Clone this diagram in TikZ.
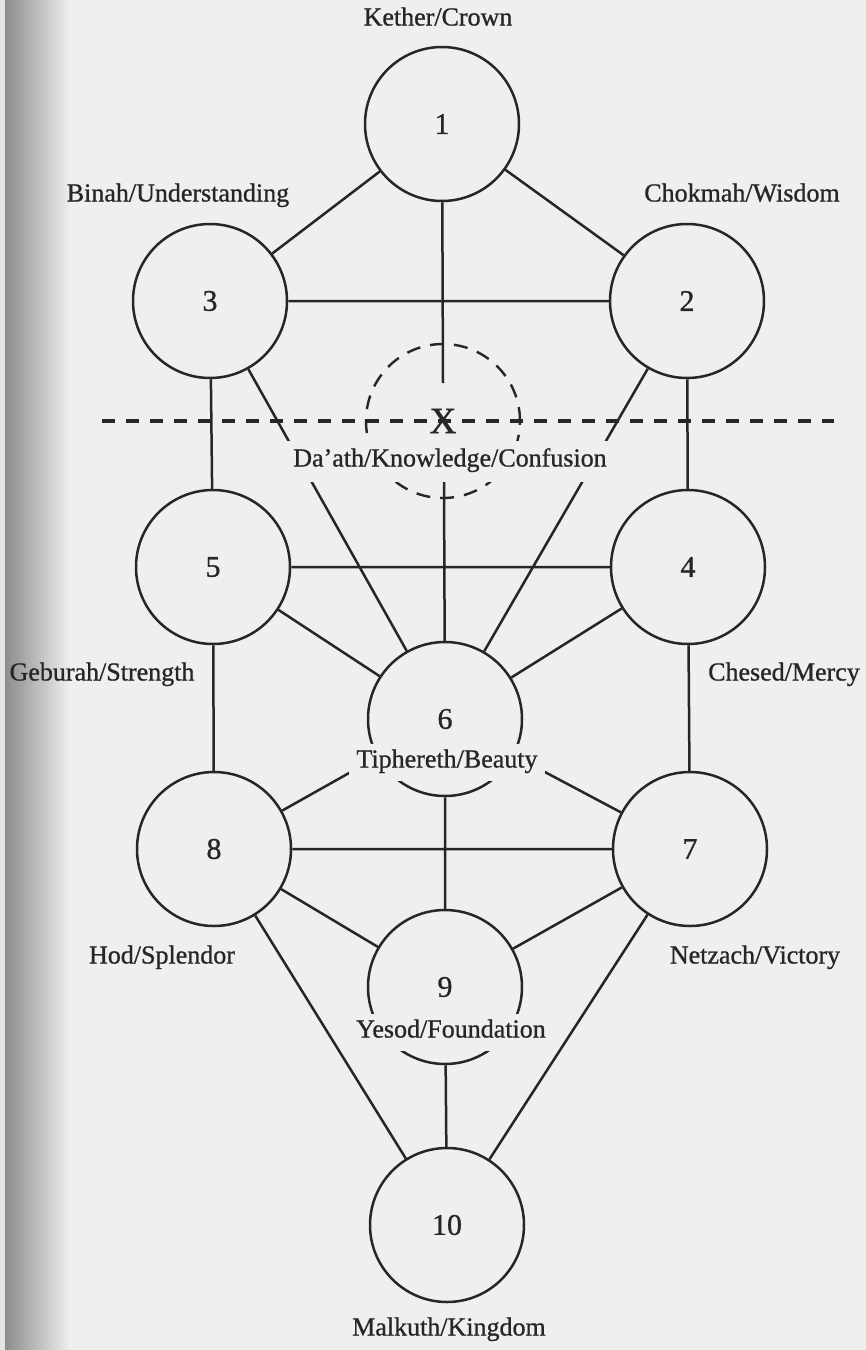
\documentclass[tikz,border=0pt]{standalone}
\usepackage{fontspec}
\setmainfont{Liberation Serif}
\newfontfamily\labfont{Liberation Serif}[FakeBold=0.9]
\definecolor{paper}{RGB}{239,239,239}
\definecolor{ink}{RGB}{38,38,38}
\definecolor{edge}{RGB}{140,140,140}
\definecolor{rim}{RGB}{228,228,228}
\begin{document}
\begin{tikzpicture}[x=1pt,y=-1pt,
  sef/.style={circle,draw=ink,line width=2.5pt,minimum size=154pt,inner sep=0pt,
    font=\labfont\fontsize{30}{33}\selectfont,text=ink},
  dsef/.style={circle,draw=ink,line width=2.4pt,minimum size=154pt,inner sep=0pt,
    dash pattern=on 14pt off 10pt},
  conn/.style={draw=ink,line width=2.5pt},
  dline/.style={draw=ink,line width=3.6pt,dash pattern=on 13pt off 11pt},
  lab/.style={font=\labfont\fontsize{26}{29}\selectfont,text=ink,inner xsep=7pt,inner ysep=7pt,
    text height=17pt,text depth=6pt},
  blank/.style={lab,fill=paper},
  xmark/.style={inner sep=0pt,font=\labfont\fontsize{37}{40}\selectfont,text=ink}
]
\useasboundingbox (0,0) rectangle (866,1350);
% paper
\fill[paper] (0,0) rectangle (866,1350);
\shade[left color=edge,right color=paper] (5,0) rectangle (70,1350);
\fill[rim] (0,0) rectangle (5,1350);

% sephiroth
\node[sef] (n1) at (442,124) {1};
\node[sef] (n2) at (687,301) {2};
\node[sef] (n3) at (210,301) {3};
\node[sef] (n4) at (688,567) {4};
\node[sef] (n5) at (213,567) {5};
\node[sef] (n6) at (445,719) {6};
\node[sef] (n7) at (690,849) {7};
\node[sef] (n8) at (214,849) {8};
\node[sef] (n9) at (445,987) {9};
\node[sef] (n10) at (447,1225) {10};
\node[dsef] (nd) at (443,421) {};

% paths
\coordinate (vgap) at (443,383);
\coordinate (vres) at (444,482);
\draw[conn] (n1)--(n2) (n1)--(n3) (n1)--(vgap) (vres)--(n6)
  (n2)--(n3) (n2)--(n4) (n2)--(n6)
  (n3)--(n5) (n3)--(n6)
  (n4)--(n5) (n4)--(n6) (n4)--(n7)
  (n5)--(n6) (n5)--(n8)
  (n6)--(n7) (n6)--(n8) (n6)--(n9)
  (n7)--(n8) (n7)--(n9) (n7)--(n10)
  (n8)--(n9) (n8)--(n10)
  (n9)--(n10);

% abyss
\coordinate (dl) at (102,421);
\coordinate (dr) at (834,421);
\draw[dline] (dl) -- (dr);
\node[xmark] (xm) at (443,421) {X};

% labels
\node[lab] (l1) at (438,20) {Kether/Crown};
\node[lab] (l3) at (178,196) {Binah/Understanding};
\node[lab] (l2) at (742,196) {Chokmah/Wisdom};
\node[blank,inner ysep=9pt] (ld) at (450,461) {Da’ath/Knowledge/Confusion};
\node[lab] (l5) at (102,675) {Geburah/Strength};
\node[lab] (l4) at (784,675) {Chesed/Mercy};
\node[blank] (l6) at (447,762) {Tiphereth/Beauty};
\node[lab] (l8) at (162,958) {Hod/Splendor};
\node[lab] (l7) at (755,958) {Netzach/Victory};
\node[blank] (l9) at (451,1032) {Yesod/Foundation};
\node[lab] (l10) at (449,1330) {Malkuth/Kingdom};
\end{tikzpicture}
\end{document}
